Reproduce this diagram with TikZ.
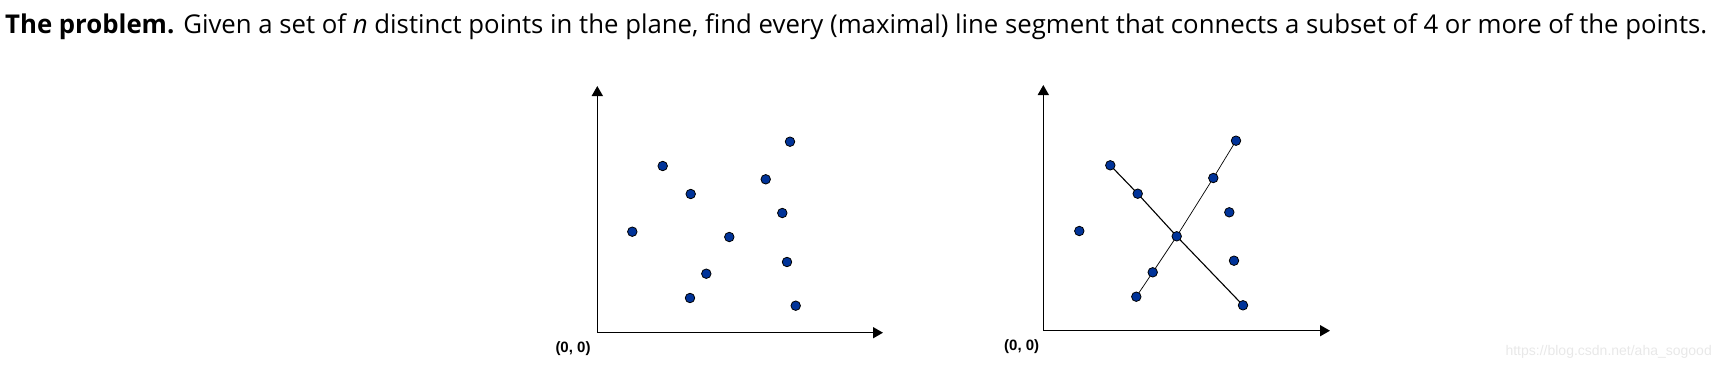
\documentclass[tikz,border=0pt]{standalone}
\usepackage{fontspec}
\setmainfont{Open Sans}
\newfontfamily\labfont{Liberation Sans}
\usetikzlibrary{arrows.meta}
\definecolor{dotblue}{RGB}{0,51,153}
\begin{document}
\begin{tikzpicture}[x=1pt,y=-1pt,
  dot/.style={circle,draw=black,fill=dotblue,line width=0.8pt,minimum size=9.5pt,inner sep=0pt},
  axis/.style={line width=1.5pt,-{Triangle[length=10pt,width=11pt]}},
  seg/.style={line width=1.1pt},
  segthin/.style={line width=0.7pt},
  origlab/.style={font=\labfont\bfseries\fontsize{15}{17}\selectfont,inner sep=0pt}]
\useasboundingbox (0,0) rectangle (1721,369);
\node[anchor=base west,inner sep=0pt] (title) at (5,34) {\resizebox*{1702pt}{26pt}{\textbf{The problem.} Given a set of \textit{n} distinct points in the plane, find every (maximal) line segment that connects a subset of 4 or more of the points.}};
% left plot
\coordinate (o1) at (597.3,332.7);
\coordinate (y1) at (597.3,86);
\coordinate (x1) at (883,332.7);
\draw[axis] (o1) -- (y1);
\draw[axis] (o1) -- (x1);
\node[origlab] (l1) at (573,349) {(0, 0)};
\node[dot] (a1) at (790,141.7) {};
\node[dot] (a2) at (662.7,166) {};
\node[dot] (a3) at (765.7,179.3) {};
\node[dot] (a4) at (690.7,194) {};
\node[dot] (a5) at (782.3,213) {};
\node[dot] (a6) at (632.3,231.7) {};
\node[dot] (a7) at (729.3,237) {};
\node[dot] (a8) at (787,262) {};
\node[dot] (a9) at (706.3,273.7) {};
\node[dot] (a10) at (690,298) {};
\node[dot] (a11) at (795.7,305.7) {};
% right plot
\coordinate (o2) at (1043.3,330.7);
\coordinate (y2) at (1043.3,85);
\coordinate (x2) at (1330,330.7);
\draw[axis] (o2) -- (y2);
\draw[axis] (o2) -- (x2);
\node[origlab] (l2) at (1021.7,347) {(0, 0)};
\coordinate (b1c) at (1236,140.7);
\coordinate (b2c) at (1110.3,165.3);
\coordinate (b3c) at (1213.3,178);
\coordinate (b4c) at (1137.7,193.7);
\coordinate (b7c) at (1176.7,236.3);
\coordinate (b9c) at (1152.7,272.3);
\coordinate (b10c) at (1136.3,296.7);
\coordinate (b11c) at (1243,305.3);
\draw[seg] (b2c) -- (b4c) -- (b7c) -- (b11c);
\draw[segthin] (b10c) -- (b9c) -- (b7c) -- (b3c) -- (b1c);
\node[dot] (b1) at (b1c) {};
\node[dot] (b2) at (b2c) {};
\node[dot] (b3) at (b3c) {};
\node[dot] (b4) at (b4c) {};
\node[dot] (b5) at (1229.3,212.3) {};
\node[dot] (b6) at (1079.3,231) {};
\node[dot] (b7) at (b7c) {};
\node[dot] (b8) at (1234,260.7) {};
\node[dot] (b9) at (b9c) {};
\node[dot] (b10) at (b10c) {};
\node[dot] (b11) at (b11c) {};
\node[anchor=east,inner sep=0pt,text=black!9,font=\labfont\fontsize{14}{16}\selectfont] (wm) at (1712,352) {https://blog.csdn.net/aha\_sogood};
\end{tikzpicture}
\end{document}
